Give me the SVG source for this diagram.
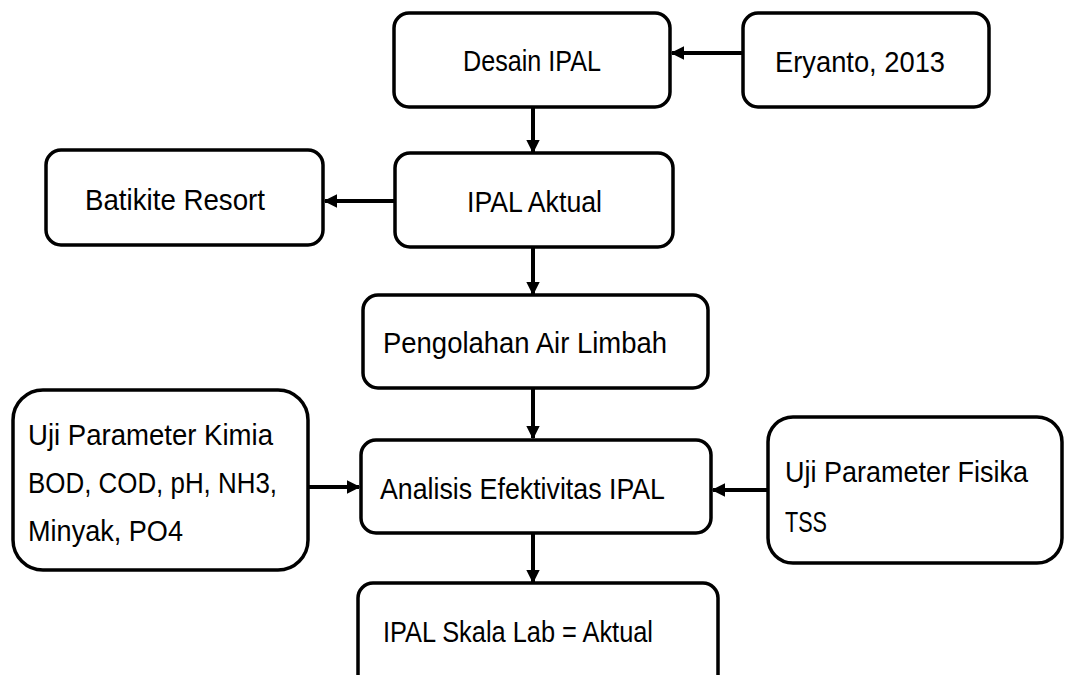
<svg xmlns="http://www.w3.org/2000/svg" width="1065" height="675" viewBox="0 0 1065 675">
<style>
.box{fill:#fff;stroke:#000;stroke-width:3.5}
.t{font-family:"Liberation Sans",Arial,sans-serif;font-size:30px;fill:#000}
.c{stroke:#000;stroke-width:4;fill:none}
</style>
<defs>
<marker id="ah" viewBox="0 0 10 10" refX="9" refY="5" markerWidth="3.4" markerHeight="3.4" orient="auto" markerUnits="strokeWidth">
<path d="M0,0 L10,5 L0,10 Z" fill="#000"/>
</marker>
</defs>
<rect width="1065" height="675" fill="#fff"/>
<g id="connectors">
<line class="c" x1="743" y1="53" x2="672" y2="53" marker-end="url(#ah)"/>
<line class="c" x1="533" y1="107" x2="533" y2="152" marker-end="url(#ah)"/>
<line class="c" x1="395" y1="201" x2="325" y2="201" marker-end="url(#ah)"/>
<line class="c" x1="533" y1="247" x2="533" y2="294" marker-end="url(#ah)"/>
<line class="c" x1="533" y1="388" x2="533" y2="438" marker-end="url(#ah)"/>
<line class="c" x1="308" y1="487" x2="359" y2="487" marker-end="url(#ah)"/>
<line class="c" x1="768" y1="490" x2="713" y2="490" marker-end="url(#ah)"/>
<line class="c" x1="533" y1="533" x2="533" y2="582" marker-end="url(#ah)"/>
</g>
<g id="desain">
<rect class="box" x="394" y="13" width="276" height="94" rx="15"/>
<text class="t" x="463" y="71" textLength="138" lengthAdjust="spacingAndGlyphs">Desain IPAL</text>
</g>
<g id="eryanto">
<rect class="box" x="743" y="13" width="246" height="94" rx="15"/>
<text class="t" x="775" y="72" textLength="170" lengthAdjust="spacingAndGlyphs">Eryanto, 2013</text>
</g>
<g id="batikite">
<rect class="box" x="46" y="150" width="277" height="95" rx="15"/>
<text class="t" x="85" y="210" textLength="180" lengthAdjust="spacingAndGlyphs">Batikite Resort</text>
</g>
<g id="aktual">
<rect class="box" x="395" y="153" width="278" height="94" rx="15"/>
<text class="t" x="467" y="212" textLength="135" lengthAdjust="spacingAndGlyphs">IPAL Aktual</text>
</g>
<g id="pengolahan">
<rect class="box" x="363" y="295" width="345" height="93" rx="15"/>
<text class="t" x="383" y="353" textLength="284" lengthAdjust="spacingAndGlyphs">Pengolahan Air Limbah</text>
</g>
<g id="kimia">
<rect class="box" x="13" y="390" width="295" height="180" rx="30"/>
<text class="t" x="28" y="445" textLength="245" lengthAdjust="spacingAndGlyphs">Uji Parameter Kimia</text>
<text class="t" x="28" y="493" textLength="249" lengthAdjust="spacingAndGlyphs">BOD, COD, pH, NH3,</text>
<text class="t" x="28" y="541" textLength="155" lengthAdjust="spacingAndGlyphs">Minyak, PO4</text>
</g>
<g id="analisis">
<rect class="box" x="361" y="440" width="350" height="93" rx="15"/>
<text class="t" x="380" y="499" textLength="285" lengthAdjust="spacingAndGlyphs">Analisis Efektivitas IPAL</text>
</g>
<g id="fisika">
<rect class="box" x="768" y="417" width="294" height="146" rx="25"/>
<text class="t" x="785" y="482" textLength="243" lengthAdjust="spacingAndGlyphs">Uji Parameter Fisika</text>
<text class="t" x="785" y="532" textLength="42" lengthAdjust="spacingAndGlyphs">TSS</text>
</g>
<g id="skala">
<rect class="box" x="358" y="583" width="360" height="120" rx="15"/>
<text class="t" x="383" y="642" textLength="270" lengthAdjust="spacingAndGlyphs">IPAL Skala Lab = Aktual</text>
</g>
</svg>
